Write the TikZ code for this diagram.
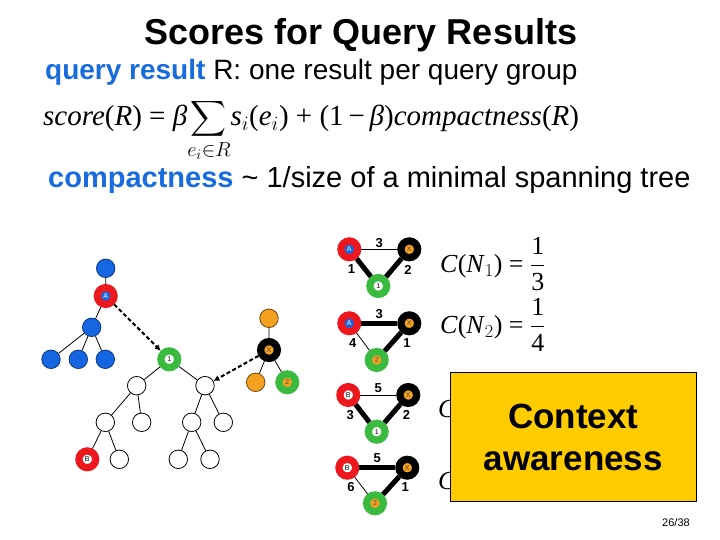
\RequirePackage{fix-cm}
\documentclass[tikz,border=0pt]{standalone}
\usepackage{exscale}
\usepackage{fontspec}
\setmainfont{Liberation Sans}
\newfontfamily\tms{Liberation Serif}
\usetikzlibrary{arrows.meta}
\definecolor{nodeblue}{RGB}{22,102,226}
\definecolor{ringred}{RGB}{236,24,30}
\definecolor{ringgreen}{RGB}{58,186,62}
\definecolor{nodeorange}{RGB}{244,160,32}
\definecolor{boxyellow}{RGB}{255,204,0}
\definecolor{keyblue}{RGB}{24,108,222}

\begin{document}
\begin{tikzpicture}[x=1pt, y=-1pt,
  plain/.style={circle, draw=black, fill=white, line width=0.8pt, minimum size=18.5pt, inner sep=0pt},
  bnode/.style={plain, fill=nodeblue, draw=nodeblue!55!black},
  onode/.style={plain, fill=nodeorange, draw=nodeorange!45!black},
  ring/.style 2 args={circle, draw=#1, fill=#2, line width=7.25pt, minimum size=16.75pt,
    inner sep=0pt, font=\fontsize{7}{7}\selectfont},
  treeedge/.style={line width=0.8pt},
  lightedge/.style={line width=0.8pt},
  heavyedge/.style={line width=5pt},
  wlbl/.style={font=\fontsize{13}{13}\selectfont\bfseries, inner sep=1.5pt},
  link/.style={line width=2pt, dash pattern=on 4pt off 2.5pt, -{Latex[length=6pt,width=6pt]}},
]
\useasboundingbox (0,0) rectangle (720,540);

% ---------- Title and text ----------
\node[anchor=base, font=\fontsize{36}{40}\selectfont\bfseries] (title) at (361,45) {Scores for Query Results};
\node[anchor=base west, font=\fontsize{28}{32}\selectfont, inner sep=0pt] (qres) at (45,80)
  {\textcolor{keyblue}{\textbf{query result}} R: one result per query group};
\node[anchor=base west, inner sep=0pt, font=\fontsize{29}{34}\selectfont\tms] (score) at (43,126)
  {\textit{score}(\textit{R}) = \textit{β}$\displaystyle\smash{\sum_{e_i\in R}}$\textit{s}$_i$(\textit{e}$_i$) + (1\,−\,\textit{β})\textit{compactness}(\textit{R})};
\node[anchor=base west, font=\fontsize{29}{32}\selectfont, inner sep=0pt] (compact) at (48,188)
  {\textcolor{keyblue}{\textbf{compactness}} \char`~\ 1/size of a minimal spanning tree};

% ---------- Data tree ----------
\node[bnode] (btop) at (105.7,268.3) {};
\node[ring={ringred}{nodeblue}, text=white] (tA) at (105.7,296) {A};
\node[bnode] (bmid) at (91.7,327.3) {};
\foreach \x [count=\i] in {51,78.3,105.3}
  \node[bnode] (bleaf\i) at (\x,359.3) {};
\node[ring={ringgreen}{white}] (t1) at (169.3,359.3) {1};
\node[plain] (wl) at (136.7,385.7) {};
\node[plain] (wr) at (205,385.7) {};
\node[plain] (wll) at (105.3,422.3) {};
\node[plain] (wlr) at (141.7,422.3) {};
\node[plain] (wrl) at (191.7,422.3) {};
\node[plain] (wrr) at (223.3,422.3) {};
\node[ring={ringred}{white}] (tB) at (87.3,459.3) {B};
\node[plain] (wllr) at (119.3,459.3) {};
\node[plain] (wrll) at (178.3,459.3) {};
\node[plain] (wrlr) at (210,459.3) {};
\node[onode] (otop) at (269,318.3) {};
\node[ring={black}{nodeorange}, text=black!70] (tX) at (269,350) {X};
\node[onode] (oleft) at (255.7,382.3) {};
\node[ring={ringgreen}{nodeorange}, text=black!70] (t2) at (287.3,382.3) {2};

\draw[treeedge] (btop) -- (tA) (tA) -- (bmid);
\foreach \i in {1,2,3} \draw[treeedge] (bmid) -- (bleaf\i);
\draw[treeedge] (t1) -- (wl) (t1) -- (wr);
\draw[treeedge] (wl) -- (wll) (wl) -- (wlr) (wll) -- (tB) (wll) -- (wllr);
\draw[treeedge] (wr) -- (wrl) (wr) -- (wrr) (wrl) -- (wrll) (wrl) -- (wrlr);
\draw[treeedge] (tX) -- (otop) (tX) -- (oleft) (tX) -- (t2);
\draw[link] (tA) -- (t1);
\draw[link] (tX) -- (wr);

% ---------- Candidate results ----------
\node[ring={ringred}{nodeblue}, text=white] (a1) at (349.3,249.3) {A};
\node[ring={black}{nodeorange}, text=black!70] (x1) at (409.3,249.3) {X};
\node[ring={ringgreen}{white}] (c1) at (378.3,286) {1};
\draw[lightedge] (a1) -- node[wlbl, above] {3} (x1);
\draw[heavyedge] (a1) -- node[wlbl, left=6pt, pos=0.6] {1} (c1);
\draw[heavyedge] (x1) -- node[wlbl, right=8pt, pos=0.6] {2} (c1);

\node[ring={ringred}{nodeblue}, text=white] (a2) at (349.3,323.3) {A};
\node[ring={black}{nodeorange}, text=black!70] (x2) at (409.3,323.3) {X};
\node[ring={ringgreen}{nodeorange}, text=black!70] (c2) at (376.7,360) {2};
\draw[heavyedge] (a2) -- node[wlbl, above, yshift=1pt] {3} (x2);
\draw[lightedge] (a2) -- node[wlbl, left=6pt, pos=0.6] {4} (c2);
\draw[heavyedge] (x2) -- node[wlbl, right=8pt, pos=0.6] {1} (c2);

\node[ring={ringred}{white}] (b3) at (348.3,395) {B};
\node[ring={black}{nodeorange}, text=black!70] (x3) at (408.3,395) {X};
\node[ring={ringgreen}{white}] (c3) at (376.7,431.7) {1};
\draw[lightedge] (b3) -- node[wlbl, above] {5} (x3);
\draw[heavyedge] (b3) -- node[wlbl, left=6pt, pos=0.6] {3} (c3);
\draw[heavyedge] (x3) -- node[wlbl, right=8pt, pos=0.6] {2} (c3);

\node[ring={ringred}{white}] (b4) at (347.3,467.7) {B};
\node[ring={black}{nodeorange}, text=black!70] (x4) at (407.3,467.7) {X};
\node[ring={ringgreen}{nodeorange}, text=black!70] (c4) at (375,503.3) {2};
\draw[heavyedge] (b4) -- node[wlbl, above, yshift=1pt] {5} (x4);
\draw[lightedge] (b4) -- node[wlbl, left=6pt, pos=0.6] {6} (c4);
\draw[heavyedge] (x4) -- node[wlbl, right=8pt, pos=0.6] {1} (c4);

% compactness values
\node[anchor=west, inner sep=0pt, font=\fontsize{26}{30}\selectfont\tms] (cn1) at (440,264)
  {\textit{C}(\textit{N}$_1$) = $\displaystyle\frac{\mbox{1}}{\mbox{3}}$};
\node[anchor=west, inner sep=0pt, font=\fontsize{26}{30}\selectfont\tms] (cn2) at (440,325)
  {\textit{C}(\textit{N}$_2$) = $\displaystyle\frac{\mbox{1}}{\mbox{4}}$};
\node[anchor=west, inner sep=0pt, font=\fontsize{26}{30}\selectfont\tms\itshape] (cn3) at (438,409) {C};
\node[anchor=west, inner sep=0pt, font=\fontsize{26}{30}\selectfont\tms\itshape] (cn4) at (438,481) {C};

% ---------- Context box ----------
\node[draw=black, line width=0.8pt, fill=boxyellow, minimum width=246.7pt, minimum height=129.4pt,
  align=center, font=\fontsize{35}{42}\selectfont\bfseries] (context) at (573.3,437) {Context\\awareness};

\node[font=\fontsize{11}{12}\selectfont] (page) at (676,523) {26/38};
\end{tikzpicture}
\end{document}
